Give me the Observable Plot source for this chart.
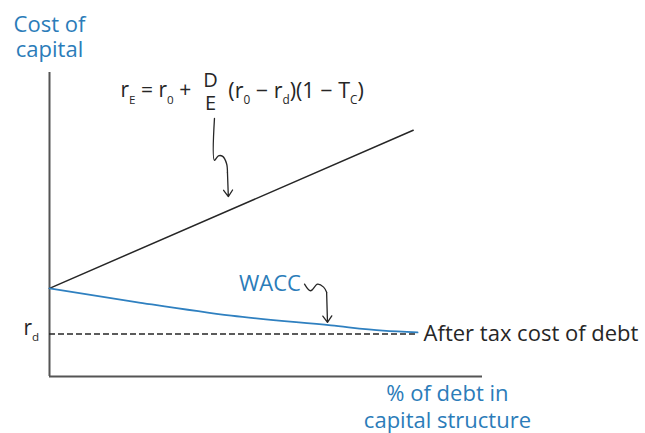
<!DOCTYPE html>
<html>
<head>
<meta charset="utf-8">
<script src="https://cdn.jsdelivr.net/npm/d3@7"></script>
<script src="https://cdn.jsdelivr.net/npm/@observablehq/plot@0.6"></script>
<style>
  html, body { margin: 0; padding: 0; background: #fff; }
  #chart svg { display: block; }
</style>
</head>
<body>
<div id="chart"></div>
<script>
// ---- data (conceptual units: x = % debt, y = cost of capital) ----
const equityX = [0, 84];
const equityY = [29, 81];

const waccX = [0, 20, 42, 65, 77, 85];
const waccY = [29, 24.5, 20, 16.8, 15.1, 14.5];

const rdValue = 14;
const rdEnd = 85;

// annotation arrows (data units)
const formulaArrowX = [38.1, 38.1, 39.0, 40.0, 40.9, 41.1];
const formulaArrowY = [84.9, 71.1, 72.6, 72.4, 70.0, 67.1];
const formulaTip = [41.1, 67.1, 41.3, 59.2];

const waccArrowX = [58.9, 60.3, 61.9, 63.3, 64.0];
const waccArrowY = [30.4, 28.2, 30.4, 29.4, 27.7];
const waccTip = [64.0, 27.7, 64.2, 17.8];

// labels
const yAxisLabel = "Cost of\ncapital";
const xAxisLabel = "% of debt in\ncapital structure";
const debtLabel = "After tax cost of debt";
const waccLabel = "WACC";
const rdLabel = "r_d";
const formulaLeft = "r_E = r_0 +";
const formulaFraction = "D\nE";
const formulaRight = "(r_0 \u2212 r_d)(1 \u2212 T_C)";

const blueText = "#2b7cb9";
const blueLine = "#2f80c0";
const ink = "#262626";

const pts = (xs, ys) => xs.map((x, i) => ({x, y: ys[i]}));

const plot = Plot.plot({
  width: 645,
  height: 433,
  x: {domain: [0, 100], range: [49, 482], axis: null},
  y: {domain: [0, 100], range: [376, 72], axis: null},
  style: {fontFamily: "'Open Sans', sans-serif", background: "#fff", overflow: "visible"},
  marks: [
    // axes
    Plot.ruleX([0], {y1: 0, y2: 100, stroke: "#555", strokeWidth: 2}),
    Plot.ruleY([0], {x1: 0, x2: 100, stroke: "#555", strokeWidth: 2}),
    // after-tax cost of debt (dashed)
    Plot.ruleY([rdValue], {x1: 0, x2: rdEnd, stroke: ink, strokeWidth: 1.4, strokeDasharray: "6,3"}),
    // cost of equity
    Plot.line(pts(equityX, equityY), {x: "x", y: "y", stroke: ink, strokeWidth: 1.5}),
    // WACC
    Plot.line(pts(waccX, waccY), {x: "x", y: "y", stroke: blueLine, strokeWidth: 1.8, curve: "monotone-x"}),
    // annotation arrows
    Plot.line(pts(formulaArrowX, formulaArrowY), {x: "x", y: "y", stroke: ink, strokeWidth: 1.3, curve: "catmull-rom"}),
    Plot.arrow([formulaTip], {x1: d => d[0], y1: d => d[1], x2: d => d[2], y2: d => d[3], stroke: ink, strokeWidth: 1.3, headLength: 9, headAngle: 70}),
    Plot.line(pts(waccArrowX, waccArrowY), {x: "x", y: "y", stroke: ink, strokeWidth: 1.3, curve: "catmull-rom"}),
    Plot.arrow([waccTip], {x1: d => d[0], y1: d => d[1], x2: d => d[2], y2: d => d[3], stroke: ink, strokeWidth: 1.3, headLength: 9, headAngle: 70}),
    // texts
    Plot.text([yAxisLabel], {x: 0, y: 112, text: d => d, fill: blueText, fontSize: 22, lineHeight: 1.14}),
    Plot.text([xAxisLabel], {x: 91.9, y: -9.6, text: d => d, fill: blueText, fontSize: 22, lineHeight: 1.22}),
    Plot.text([debtLabel], {x: 86.4, y: rdValue, text: d => d, fill: ink, fontSize: 22, textAnchor: "start"}),
    Plot.text([waccLabel], {x: 50.9, y: 30.6, text: d => d, fill: blueText, fontSize: 22}),
    Plot.text([rdLabel], {x: -2.4, y: rdValue + 1.8, text: d => d, fill: ink, fontSize: 21, textAnchor: "end"}),
    Plot.text([formulaLeft], {x: 16.4, y: 94.0, text: d => d, fill: ink, fontSize: 21, textAnchor: "start"}),
    Plot.text([formulaFraction], {x: 37.2, y: 93.8, text: d => d, fill: ink, fontSize: 20, lineHeight: 1.15}),
    Plot.text([formulaRight], {x: 41.3, y: 94.0, text: d => d, fill: ink, fontSize: 21.5, textAnchor: "start"})
  ]
});

document.getElementById("chart").appendChild(plot);

// turn "_X" into subscripts
d3.select(plot).selectAll("text").each(function () {
  const el = this;
  if (el.querySelector("tspan")) return;
  const s = el.textContent;
  if (!s.includes("_")) return;
  const fs = parseFloat(getComputedStyle(el).fontSize) || 18;
  const shift = fs * 0.3;
  el.textContent = "";
  const parts = s.split(/_(.)/);
  let shifted = false;
  parts.forEach((p, i) => {
    if (p === "") return;
    const t = document.createElementNS("http://www.w3.org/2000/svg", "tspan");
    t.textContent = p;
    if (i % 2 === 1) {
      t.setAttribute("font-size", (fs * 0.55).toFixed(1));
      t.setAttribute("dy", shift.toFixed(1));
      shifted = true;
    } else if (shifted) {
      t.setAttribute("dy", (-shift).toFixed(1));
      shifted = false;
    }
    el.appendChild(t);
  });
});
</script>
</body>
</html>
